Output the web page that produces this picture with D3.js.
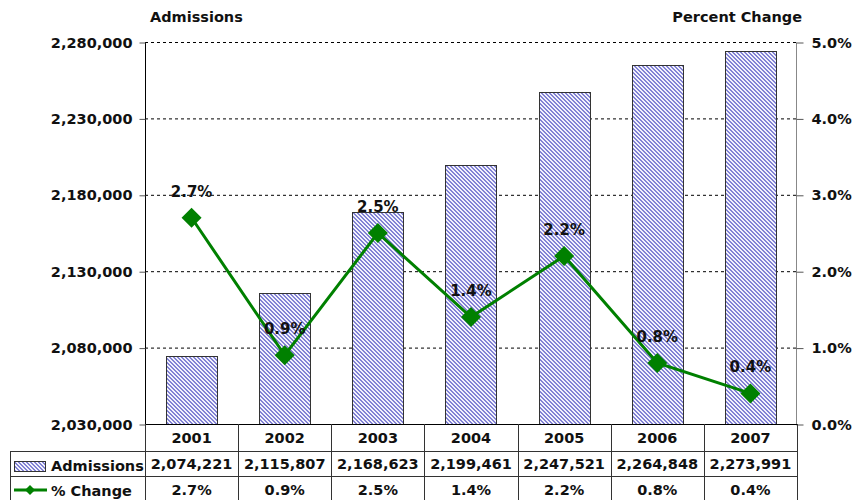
<!DOCTYPE html>
<html>
<head>
<meta charset="utf-8">
<script src="https://cdn.jsdelivr.net/npm/d3@7"></script>
<style>
    body { margin: 0; background: #fff; }
    svg text { font-family: "DejaVu Sans", Verdana, sans-serif; font-weight: bold; fill: #111; }
</style>
</head>
<body>
<div class="static-image"></div>
<script>
var years = ["2001", "2002", "2003", "2004", "2005", "2006", "2007"];
var admissions = [2074221, 2115807, 2168623, 2199461, 2247521, 2264848, 2273991];
var pctChange = [2.7, 0.9, 2.5, 1.4, 2.2, 0.8, 0.4];
var leftTicks = [2030000, 2080000, 2130000, 2180000, 2230000, 2280000];
var rightTicks = [0, 1, 2, 3, 4, 5];

var width = 859;
var height = 500;
var plot = { left: 145, right: 797, top: 42, bottom: 424 };
var rows = { head: 424, adm: 451, pct: 476, end: 500 };
var green = "#008000";

var x = d3.scaleBand().domain(years).range([plot.left, plot.right]).paddingInner(0.45).paddingOuter(0.225);
var yL = d3.scaleLinear().domain([2030000, 2280000]).range([plot.bottom, plot.top]);
var yR = d3.scaleLinear().domain([0, 5]).range([plot.bottom, plot.top]);
var fmt = d3.format(",");
var fmtPct = function (d) { return d.toFixed(1) + "%"; };

var svg = d3.select(".static-image").append("svg")
    .attr("width", width)
    .attr("height", height);

// pixel hatch for the bars (2px blue run shifting one pixel each row)
var pat = svg.append("defs").append("pattern")
    .attr("id", "hatch")
    .attr("patternUnits", "userSpaceOnUse")
    .attr("width", 4)
    .attr("height", 4);
pat.append("rect").attr("width", 4).attr("height", 4).attr("fill", "#f2f2fc");
[0, 1, 2, 3].forEach(function (r) {
    [r, (r + 1) % 4].forEach(function (c) {
        pat.append("rect").attr("x", c).attr("y", r).attr("width", 1).attr("height", 1)
            .attr("fill", "#8282d4").attr("shape-rendering", "crispEdges");
    });
});

drawGrid();
drawBars();
drawLine();
drawAxes();
drawTable();

function drawGrid() {
    svg.append("g").selectAll("line")
        .data(leftTicks.slice(1))
        .join("line")
        .attr("x1", plot.left)
        .attr("x2", plot.right)
        .attr("y1", function (d) { return yL(d) + 0.5; })
        .attr("y2", function (d) { return yL(d) + 0.5; })
        .attr("stroke", "#000")
        .attr("stroke-dasharray", "3,3");
}

function drawBars() {
    svg.append("g").selectAll("rect")
        .data(admissions)
        .join("rect")
        .attr("x", function (d, i) { return Math.round(x(years[i])) + 0.5; })
        .attr("y", function (d) { return Math.round(yL(d)) + 0.5; })
        .attr("width", Math.round(x.bandwidth()))
        .attr("height", function (d) { return plot.bottom - Math.round(yL(d)); })
        .attr("fill", "url(#hatch)")
        .attr("stroke", "#333");
}

function diamond(r) {
    return "M0," + (-r) + "L" + r + ",0L0," + r + "L" + (-r) + ",0Z";
}

function drawLine() {
    var cx = function (d, i) { return x(years[i]) + x.bandwidth() / 2; };
    var line = d3.line()
        .x(cx)
        .y(function (d) { return yR(d); });
    svg.append("path")
        .datum(pctChange)
        .attr("d", line)
        .attr("fill", "none")
        .attr("stroke", green)
        .attr("stroke-width", 3);
    svg.append("g").selectAll("path")
        .data(pctChange)
        .join("path")
        .attr("transform", function (d, i) { return "translate(" + cx(d, i) + "," + yR(d) + ")"; })
        .attr("d", diamond(10))
        .attr("fill", green);
    svg.append("g").selectAll("text")
        .data(pctChange)
        .join("text")
        .attr("x", cx)
        .attr("y", function (d) { return yR(d) - 21; })
        .attr("text-anchor", "middle")
        .style("font-size", "15px")
        .text(fmtPct);
}

function drawAxes() {
    var left = svg.append("g")
        .attr("transform", "translate(" + (plot.left + 0.5) + ",0.5)")
        .call(d3.axisLeft(yL).tickValues(leftTicks).tickSize(6).tickPadding(7).tickFormat(fmt));
    left.select(".domain").attr("d", "M0," + plot.top + "V" + plot.bottom).attr("stroke", "#000");
    left.selectAll(".tick line").attr("stroke", "#555");
    left.selectAll("text").style("font-size", "14.5px").style("font-family", null);

    var right = svg.append("g")
        .attr("transform", "translate(" + (plot.right - 0.5) + ",0.5)")
        .call(d3.axisRight(yR).tickValues(rightTicks).tickSize(7).tickPadding(8).tickFormat(fmtPct));
    right.select(".domain").attr("d", "M0," + plot.top + "V" + plot.bottom).attr("stroke", "#888");
    right.selectAll(".tick line").attr("stroke", "#555");
    right.selectAll("text").style("font-size", "14.5px").style("font-family", null);

    svg.append("text")
        .attr("x", 150).attr("y", 22)
        .style("font-size", "14.5px")
        .text("Admissions");
    svg.append("text")
        .attr("x", 802).attr("y", 22)
        .attr("text-anchor", "end")
        .style("font-size", "14.5px")
        .text("Percent Change");
}

function drawTable() {
    var g = svg.append("g");
    var bounds = years.map(function (d) { return x(d) - x.step() * x.paddingInner() / 2; });
    bounds.push(plot.right);

    // horizontal rules
    g.append("line").attr("x1", plot.left).attr("x2", plot.right)
        .attr("y1", rows.head + 0.5).attr("y2", rows.head + 0.5).attr("stroke", "#000");
    [rows.adm, rows.pct].forEach(function (y) {
        g.append("line").attr("x1", 10).attr("x2", plot.right)
            .attr("y1", y + 0.5).attr("y2", y + 0.5).attr("stroke", "#333");
    });
    // vertical rules
    g.selectAll("line.col")
        .data(bounds)
        .join("line")
        .attr("class", "col")
        .attr("x1", function (d) { return Math.round(d) + 0.5; })
        .attr("x2", function (d) { return Math.round(d) + 0.5; })
        .attr("y1", rows.head)
        .attr("y2", rows.end)
        .attr("stroke", "#333");
    g.append("line").attr("x1", 10.5).attr("x2", 10.5)
        .attr("y1", rows.adm).attr("y2", rows.end).attr("stroke", "#333");

    var cx = function (d, i) { return x(years[i]) + x.bandwidth() / 2; };
    g.selectAll("text.yr").data(years).join("text").attr("class", "yr")
        .attr("x", cx).attr("y", 443).attr("text-anchor", "middle")
        .style("font-size", "14.5px").text(function (d) { return d; });
    g.selectAll("text.adm").data(admissions).join("text").attr("class", "adm")
        .attr("x", cx).attr("y", 469).attr("text-anchor", "middle")
        .style("font-size", "14.5px").text(fmt);
    g.selectAll("text.pct").data(pctChange).join("text").attr("class", "pct")
        .attr("x", cx).attr("y", 495).attr("text-anchor", "middle")
        .style("font-size", "14.5px").text(fmtPct);

    // legend keys
    g.append("rect").attr("x", 14.5).attr("y", 461.5).attr("width", 31).attr("height", 10)
        .attr("fill", "url(#hatch)").attr("stroke", "#333");
    g.append("text").attr("x", 51).attr("y", 471).style("font-size", "14.5px").text("Admissions");
    g.append("line").attr("x1", 14).attr("x2", 47).attr("y1", 490).attr("y2", 490)
        .attr("stroke", green).attr("stroke-width", 3);
    g.append("path").attr("transform", "translate(30,490)").attr("d", diamond(5)).attr("fill", green);
    g.append("text").attr("x", 51).attr("y", 496).style("font-size", "14.5px").text("% Change");
}
</script>
</body>
</html>
